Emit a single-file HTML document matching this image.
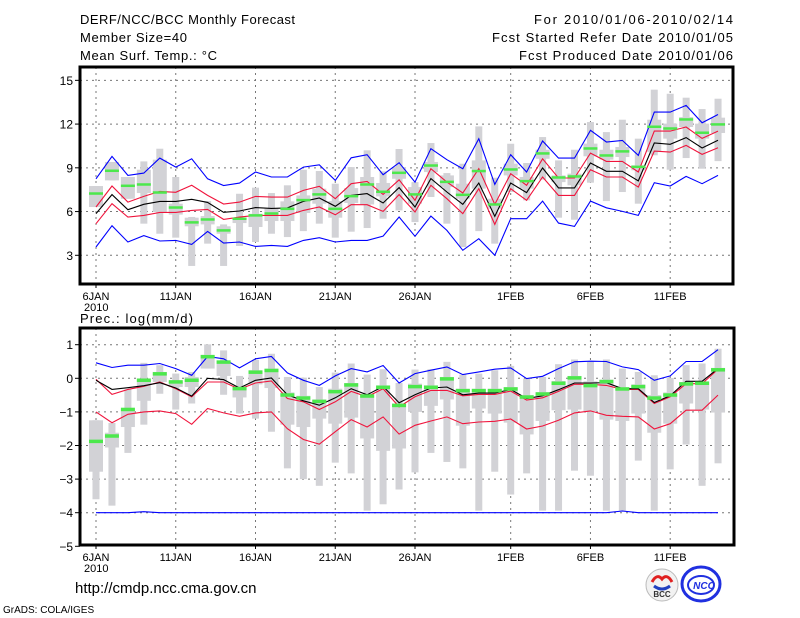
<!DOCTYPE html>
<html><head><meta charset="utf-8"><style>
html,body{margin:0;padding:0;background:#fff;}
svg{display:block;font-family:"Liberation Sans",sans-serif;}
</style></head><body>
<svg id="chart" width="800" height="618" viewBox="0 0 800 618" xmlns="http://www.w3.org/2000/svg">
<rect width="800" height="618" fill="#fff"/>
<g font-size="13" fill="#000">
<text x="80" y="24" textLength="215" lengthAdjust="spacing">DERF/NCC/BCC Monthly Forecast</text>
<text x="80" y="42" textLength="107" lengthAdjust="spacing">Member Size=40</text>
<text x="80" y="60" textLength="137" lengthAdjust="spacing">Mean Surf. Temp.: °C</text>
<text x="534" y="24" textLength="199" lengthAdjust="spacing">For 2010/01/06-2010/02/14</text>
<text x="492" y="42" textLength="241" lengthAdjust="spacing">Fcst Started Refer Date 2010/01/05</text>
<text x="519" y="60" textLength="214" lengthAdjust="spacing">Fcst Produced Date 2010/01/06</text>
<text x="80" y="323" textLength="113" lengthAdjust="spacing">Prec.: log(mm/d)</text>
</g>
<g id="top"></g>
<g id="bot"></g>
<text x="75" y="593" font-size="15">http://cmdp.ncc.cma.gov.cn</text>
<text x="3" y="613" font-size="10">GrADS: COLA/IGES</text>
<g>
<circle cx="662" cy="585" r="16" fill="#f2f2f2" stroke="#bbb"/>
<path d="M652 582 q5 -9 10 -3 q5 -6 10 3" fill="none" stroke="#e02020" stroke-width="3"/>
<path d="M654 586 q8 6 16 0" fill="none" stroke="#2040c0" stroke-width="3"/>
<text x="662" y="597" font-size="8" font-weight="bold" text-anchor="middle" fill="#333">BCC</text>
</g>
<g>
<ellipse cx="701" cy="584" rx="19" ry="17" fill="#fff" stroke="#2030e0" stroke-width="3"/>
<ellipse cx="701" cy="585" rx="13" ry="9" fill="none" stroke="#2030e0" stroke-width="2"/>
<text x="704" y="589" font-size="10" font-style="italic" font-weight="bold" text-anchor="middle" fill="#2030e0">NCC</text>
</g>
</svg>
<script>
// ---------- data ----------
const days = ["6JAN","7","8","9","10","11JAN","12","13","14","15","16JAN","17","18","19","20","21JAN","22","23","24","25","26JAN","27","28","29","30","31","1FEB","2","3","4","5","6FEB","7","8","9","10","11FEB","12","13","14"];
const tickDays = [0,5,10,15,20,26,31,36];
const tickDayLabels = ["6JAN","11JAN","16JAN","21JAN","26JAN","1FEB","6FEB","11FEB"];
const tempTicks = [15,12,9,6,3];
const precTicks = [1,0,-1,-2,-3,-4,-5];

const tMean = [5.86,7.16,6.13,6.50,6.70,6.70,6.84,6.63,5.95,6.04,6.27,6.22,6.25,6.70,6.93,6.36,7.11,7.23,6.59,7.64,6.31,8.26,7.34,6.50,7.96,5.67,7.96,7.30,8.99,7.62,7.62,9.33,8.76,8.76,8.10,10.70,10.61,11.07,10.36,10.89];
const tRedHi = [6.31,7.75,6.65,7.04,7.38,7.32,7.80,7.11,6.52,6.65,7.04,6.99,6.99,7.45,7.73,6.88,7.91,8.07,7.18,8.18,6.77,8.94,8.02,7.27,8.94,6.49,8.60,7.80,9.62,8.30,8.30,10.01,9.44,9.44,8.71,11.52,11.52,11.80,11.02,11.52];
const tRedLo = [5.17,6.54,5.62,5.74,5.94,5.94,6.08,6.15,5.46,5.62,5.74,5.74,5.74,6.08,6.31,5.78,6.47,6.47,6.01,7.16,5.97,7.80,6.88,5.85,7.57,5.12,7.57,6.77,8.37,7.11,7.11,8.87,8.37,8.37,7.68,10.15,10.08,10.54,9.92,10.38];
const tBlueHi = [8.25,9.78,8.48,8.64,9.67,9.05,9.62,8.25,7.79,7.95,8.71,8.37,8.37,9.05,9.21,8.14,9.69,9.90,8.53,9.35,8.02,10.31,9.56,8.94,11.00,7.86,9.90,8.71,10.84,9.67,9.67,11.57,10.77,10.88,9.85,12.82,12.82,13.28,12.09,12.66];
const tBlueLo = [3.57,5.03,3.91,4.35,3.98,4.02,3.75,4.64,3.84,3.91,3.61,3.68,3.61,4.02,4.21,3.91,4.02,4.02,4.32,5.63,4.30,5.69,4.71,3.34,4.14,3.00,5.51,5.51,6.72,5.21,4.98,6.72,6.26,6.01,5.74,7.98,7.75,8.41,7.91,8.48];
const tGreen = [7.22,8.78,7.75,7.84,7.29,6.26,5.24,5.44,4.69,5.49,5.72,5.85,6.17,6.77,7.16,6.17,7.04,7.84,7.34,8.64,7.16,9.14,8.02,7.13,8.76,6.47,8.87,8.07,9.97,8.32,8.39,10.31,9.83,10.11,9.05,11.80,11.68,12.30,11.39,11.96];
const tMax = [7.75,9.40,8.37,9.44,10.31,8.37,5.63,6.72,5.12,7.22,7.64,7.27,7.80,8.87,8.78,7.91,9.05,10.20,8.76,10.29,8.02,10.70,8.64,9.28,11.84,8.32,10.65,9.33,11.11,9.51,10.24,12.14,11.45,12.30,11.00,14.36,14.08,13.81,13.03,13.74];
const tMin = [6.31,8.14,6.88,5.17,4.48,4.21,2.27,3.80,2.27,3.64,3.91,4.48,4.25,4.66,5.17,4.21,4.62,4.87,5.51,6.08,5.28,7.00,5.17,3.57,4.66,3.80,7.34,6.77,8.19,5.58,5.44,7.98,6.72,7.34,6.54,9.86,8.87,9.67,8.94,9.46];
const tQ3 = [7.75,9.40,8.37,8.87,9.56,6.54,5.58,5.69,4.99,5.58,5.85,6.20,6.70,7.11,7.57,6.72,7.61,8.37,7.96,9.05,7.68,9.40,8.48,7.91,9.51,6.88,9.28,8.37,10.24,8.48,8.60,10.66,10.24,10.43,9.17,12.30,12.03,12.48,12.03,12.44];
const tQ1 = [6.31,8.14,6.88,7.27,5.97,5.79,4.99,5.12,4.48,5.21,4.94,5.35,5.35,5.90,6.54,5.58,6.59,6.49,7.04,8.25,6.54,8.71,7.68,6.88,7.57,6.20,8.48,7.57,9.62,8.02,7.80,9.79,9.56,9.74,8.83,10.08,11.00,11.80,11.00,11.39];

const pMean = [-0.06,-0.33,-0.28,-0.22,-0.13,-0.29,-0.53,0,-0.04,-0.29,-0.06,0.01,-0.49,-0.67,-0.80,-0.58,-0.31,-0.49,-0.24,-0.73,-0.49,-0.29,-0.26,-0.49,-0.44,-0.44,-0.33,-0.60,-0.52,-0.34,-0.14,-0.14,-0.13,-0.31,-0.31,-0.72,-0.52,-0.09,-0.09,0.29];
const pRedHi = [-0.03,-0.48,-0.33,-0.24,-0.11,-0.31,-0.55,-0.11,-0.11,-0.32,-0.14,-0.08,-0.60,-0.70,-0.93,-0.70,-0.39,-0.55,-0.31,-0.85,-0.55,-0.36,-0.36,-0.52,-0.48,-0.48,-0.38,-0.65,-0.58,-0.39,-0.18,-0.18,-0.21,-0.33,-0.33,-0.75,-0.55,-0.16,-0.16,0.27];
const pRedLo = [-1.0,-1.32,-1.07,-1.0,-0.97,-1.05,-1.37,-0.90,-1.03,-1.13,-1.03,-1.0,-1.50,-1.82,-1.96,-1.59,-1.23,-1.45,-1.15,-1.66,-1.40,-1.27,-1.15,-1.35,-1.30,-1.28,-1.21,-1.51,-1.42,-1.25,-1.03,-0.97,-1.10,-1.13,-1.15,-1.51,-1.35,-0.95,-0.95,-0.50];
const pBlueHi = [0.46,0.32,0.39,0.39,0.44,0.29,0.09,0.65,0.58,0.31,0.58,0.65,0.16,-0.06,-0.21,0.07,0.29,0.19,0.38,-0.14,0.14,0.24,0.34,0.11,0.19,0.27,0.31,-0.01,0.06,0.29,0.49,0.51,0.50,0.34,0.26,-0.06,0.07,0.50,0.50,0.85];
const pBlueLo = [-4,-4,-4,-3.97,-4,-4,-4,-4,-4,-4,-4,-4,-4,-4,-4,-4,-4,-4,-4,-4,-4,-4,-4,-4,-4,-4,-4,-4,-4,-4,-4,-4,-4,-3.95,-4,-4,-4,-4,-4,-4];
const pGreen = [-1.87,-1.71,-0.92,-0.05,0.14,-0.10,-0.05,0.65,0.49,-0.30,0.19,0.24,-0.49,-0.58,-0.68,-0.39,-0.19,-0.52,-0.26,-0.80,-0.24,-0.26,-0.01,-0.36,-0.36,-0.36,-0.31,-0.55,-0.46,-0.14,0.02,-0.21,-0.09,-0.31,-0.24,-0.58,-0.49,-0.16,-0.14,0.26];
const pMax = [-1.25,-1.33,-0.33,0.46,0.39,0.14,0.19,1.01,0.83,0.07,0.55,0.73,0.04,0.02,-0.26,0.17,0.44,0.11,0.27,-0.14,0.26,0.27,0.49,0.11,0.14,0.24,0.37,-0.01,0.04,0.42,0.56,0.49,0.56,0.29,0.19,0.09,0.01,0.39,0.44,0.88];
const pMin = [-3.60,-3.79,-2.22,-1.38,-0.46,-0.93,-0.75,0.29,-0.49,-1.05,-1.20,-1.59,-2.68,-3.00,-3.20,-2.51,-2.83,-3.94,-3.75,-3.31,-2.80,-2.22,-2.49,-2.68,-3.94,-2.78,-3.46,-2.83,-3.94,-3.94,-2.75,-2.90,-3.94,-3.94,-2.45,-3.94,-2.71,-1.97,-3.20,-2.53];
const pQ3 = [-1.25,-1.62,-0.92,-0.05,0.19,-0.10,0.04,0.70,0.53,-0.26,0.24,0.29,-0.42,-0.52,-0.63,-0.31,-0.14,-0.46,-0.21,-0.75,-0.16,-0.21,0.04,-0.31,-0.31,-0.31,-0.26,-0.50,-0.41,-0.08,0.07,-0.09,-0.04,-0.26,-0.18,-0.50,-0.42,-0.11,-0.09,0.31];
const pQ1 = [-2.78,-2.06,-1.45,-0.67,-0.11,-0.26,-0.26,0.29,0.07,-0.57,-0.18,-0.29,-1.38,-1.45,-1.20,-1.35,-1.17,-1.79,-2.16,-2.09,-1.00,-0.82,-0.63,-1.41,-0.90,-1.05,-1.32,-1.67,-1.27,-0.95,-0.93,-0.98,-1.23,-1.27,-1.05,-1.62,-1.35,-0.75,-0.93,-1.02];

// ---------- drawing ----------
const NS = "http://www.w3.org/2000/svg";
function mk(parent, tag, attrs){ const e=document.createElementNS(NS,tag); for(const k in attrs) e.setAttribute(k,attrs[k]); parent.appendChild(e); return e; }
const xOf = i => 96 + i*15.95;

function panel(g, name, L, T, R, B, yOf, ticks, series){
  
  
  ticks.forEach(t=>{
    const y=yOf(t);
    if (y>T+2 && y<B-2){
      const gl=mk(g,'line',{x1:L,x2:R,y1:y,y2:y,stroke:'#777','stroke-width':1,'stroke-dasharray':'2 4'});
      
      
    }
    const tk=mk(g,'line',{x1:L-5,x2:L,y1:y,y2:y,stroke:'#000','stroke-width':1});
    
    
    const tl=mk(g,'text',{x:L-7,y:y+4.5,'font-size':12,'text-anchor':'end'});
    tl.textContent = String(t).replace('-','\u2212');
    
    
  });
  tickDays.forEach((d,k)=>{
    const x=xOf(d);
    const gl=mk(g,'line',{x1:x,x2:x,y1:T,y2:B,stroke:'#777','stroke-width':1,'stroke-dasharray':'2 4'});
    
    
    const tk=mk(g,'line',{x1:x,x2:x,y1:B,y2:B+4,stroke:'#000','stroke-width':1});
    
    
    const tl=mk(g,'text',{x:x,y:B+16,'font-size':11,'text-anchor':'middle'});
    tl.textContent = tickDayLabels[k];
    
    
  });
  const yr=mk(g,'text',{x:84,y:B+27,'font-size':11});
  yr.textContent='2010';
  
  
  days.forEach((d,i)=>{
    const x=xOf(i);
    const a=yOf(series.max[i]), b=yOf(series.min[i]);
    const thin=mk(g,'rect',{x:x-3.5,y:Math.min(a,b),width:7,height:Math.abs(b-a),fill:'#d2d2d6'});
    
    
    const c=yOf(series.q3[i]), e=yOf(series.q1[i]);
    const box=mk(g,'rect',{x:x-7,y:Math.min(c,e),width:14,height:Math.max(1,Math.abs(e-c)),fill:'#d2d2d6'});
    
    
  });
  const line=(arr,col,nm)=>{
    const pts=arr.map((v,i)=>xOf(i).toFixed(1)+','+yOf(v).toFixed(1)).join(' ');
    const p=mk(g,'polyline',{points:pts,fill:'none',stroke:col,'stroke-width':1.1});
    
    
  };
  line(series.blueHi,'#0000ff','upper-bound-line');
  line(series.blueLo,'#0000ff','lower-bound-line');
  line(series.redHi,'#f0143c','upper-std-line');
  line(series.redLo,'#f0143c','lower-std-line');
  line(series.mean,'#000','ensemble-mean-line');
  series.green.forEach((v,i)=>{
    const m=mk(g,'rect',{x:xOf(i)-7,y:yOf(v)-1.5,width:14,height:series.gh,fill:'#4ce84c'});
    
    
  });
  const fr=mk(g,'rect',{x:L,y:T,width:R-L,height:B-T,fill:'none',stroke:'#000','stroke-width':3});
  
  
}

panel(document.getElementById('top'),'temperature-panel',80,67,733,284,
  v=>255.3-(v-3)*14.58, tempTicks,
  {mean:tMean,redHi:tRedHi,redLo:tRedLo,blueHi:tBlueHi,blueLo:tBlueLo,green:tGreen,max:tMax,min:tMin,q3:tQ3,q1:tQ1,gh:2.5});
panel(document.getElementById('bot'),'precipitation-panel',80,328,734,545,
  v=>378.3-v*33.6, precTicks,
  {mean:pMean,redHi:pRedHi,redLo:pRedLo,blueHi:pBlueHi,blueLo:pBlueLo,green:pGreen,max:pMax,min:pMin,q3:pQ3,q1:pQ1,gh:3.5});
</script>
</body></html>
